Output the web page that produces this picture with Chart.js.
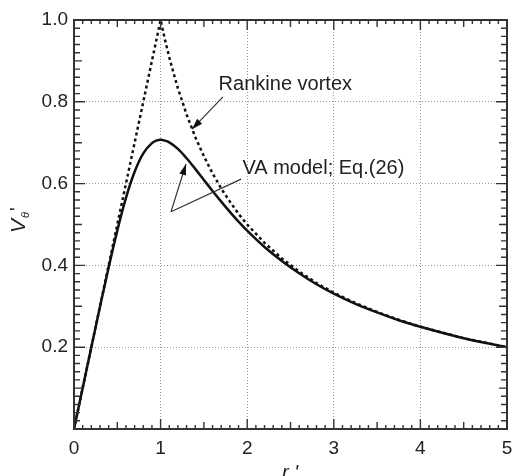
<!DOCTYPE html>
<html>
<head>
<meta charset="utf-8">
<script src="https://cdn.jsdelivr.net/npm/chart.js@4.4.1/dist/chart.umd.min.js"></script>
<style>
  html, body { margin: 0; padding: 0; background: #fff; }
  #wrap { width: 512px; height: 476px; position: relative; }
</style>
</head>
<body>
<div id="wrap"><canvas id="chart"></canvas></div>
<script>
// ── Data ──────────────────────────────────────────────
const rankineR = [0, 1, 1.05, 1.1, 1.15, 1.2, 1.3, 1.4, 1.5, 1.6, 1.7, 1.8, 1.9, 2.0, 2.2, 2.4, 2.6, 2.8, 3.0, 3.25, 3.5, 3.75, 4.0, 4.5, 5.0];
const rankineV = [0, 1, 0.952, 0.909, 0.870, 0.833, 0.769, 0.714, 0.667, 0.625, 0.588, 0.556, 0.526, 0.500, 0.455, 0.417, 0.385, 0.357, 0.333, 0.308, 0.286, 0.267, 0.250, 0.222, 0.200];

const vaR = [0, 0.1, 0.2, 0.3, 0.4, 0.5, 0.6, 0.7, 0.8, 0.9, 0.95, 1.0, 1.05, 1.1, 1.2, 1.3, 1.4, 1.5, 1.6, 1.7, 1.8, 1.9, 2.0, 2.2, 2.4, 2.6, 2.8, 3.0, 3.25, 3.5, 3.75, 4.0, 4.5, 5.0];
const vaV = [0, 0.100, 0.200, 0.299, 0.395, 0.485, 0.565, 0.629, 0.674, 0.699, 0.705, 0.707, 0.705, 0.701, 0.685, 0.662, 0.636, 0.609, 0.582, 0.556, 0.531, 0.507, 0.485, 0.445, 0.411, 0.381, 0.354, 0.331, 0.306, 0.285, 0.266, 0.250, 0.222, 0.200];

const xTicks = [0, 1, 2, 3, 4, 5];
const yTicks = [0.2, 0.4, 0.6, 0.8, 1.0];

const INK = '#222';
const FONT = '"Liberation Sans", Arial, sans-serif';

const toPts = (xs, ys) => xs.map((x, i) => ({ x, y: ys[i] }));

// ── Frame, inward ticks, titles, annotations ──────────
const decor = {
  id: 'decor',
  afterDraw(chart) {
    const { ctx, chartArea: a, scales: { x, y } } = chart;
    ctx.save();
    ctx.strokeStyle = '#333';
    ctx.lineWidth = 1.4;

    // x ticks (bottom + top), 0.1 step
    for (let i = 0; i <= 50; i++) {
      const px = x.getPixelForValue(i / 10);
      const len = i % 10 === 0 ? 10 : i % 5 === 0 ? 7 : 4;
      ctx.beginPath();
      ctx.moveTo(px, a.bottom); ctx.lineTo(px, a.bottom - len);
      ctx.moveTo(px, a.top);    ctx.lineTo(px, a.top + len);
      ctx.stroke();
    }
    // y ticks (left + right), 0.02 step
    for (let i = 0; i <= 50; i++) {
      const py = y.getPixelForValue(i / 50);
      const len = i % 10 === 0 ? 11 : i % 5 === 0 ? 8 : 6;
      ctx.beginPath();
      ctx.moveTo(a.left, py);  ctx.lineTo(a.left + len, py);
      ctx.moveTo(a.right, py); ctx.lineTo(a.right - len, py);
      ctx.stroke();
    }

    // frame
    ctx.lineWidth = 2;
    ctx.strokeRect(a.left, a.top, a.right - a.left, a.bottom - a.top);

    // axis titles
    ctx.fillStyle = INK;
    ctx.textBaseline = 'alphabetic';
    ctx.textAlign = 'left';
    ctx.font = `italic 20px ${FONT}`;
    ctx.fillText("r '", 282, 479);

    ctx.save();
    ctx.translate(25, 233);
    ctx.rotate(-Math.PI / 2);
    ctx.font = `italic 21px ${FONT}`;
    ctx.fillText('V', 0, 0);
    const vw = ctx.measureText('V').width;
    ctx.font = `italic 11px ${FONT}`;
    ctx.fillText('θ', vw + 1, 4);
    ctx.font = `20px ${FONT}`;
    ctx.fillText("'", vw + 8, -1);
    ctx.restore();

    // annotations (data coords)
    const P = (dx, dy) => [x.getPixelForValue(dx), y.getPixelForValue(dy)];
    ctx.font = `20px ${FONT}`;
    ctx.textBaseline = 'middle';
    let [tx, ty] = P(1.67, 0.843);
    ctx.fillText('Rankine vortex', tx, ty);
    [tx, ty] = P(1.945, 0.636);
    ctx.fillText('VA model; Eq.(26)', tx, ty);

    const arrow = (from, to, head) => {
      ctx.strokeStyle = '#333';
      ctx.lineWidth = 1.2;
      ctx.beginPath();
      ctx.moveTo(from[0], from[1]); ctx.lineTo(to[0], to[1]);
      ctx.stroke();
      if (!head) return;
      const ang = Math.atan2(to[1] - from[1], to[0] - from[0]);
      const L = 11, W = 3.5;
      ctx.fillStyle = '#111';
      ctx.beginPath();
      ctx.moveTo(to[0], to[1]);
      ctx.lineTo(to[0] - L * Math.cos(ang) + W * Math.sin(ang), to[1] - L * Math.sin(ang) - W * Math.cos(ang));
      ctx.lineTo(to[0] - L * Math.cos(ang) - W * Math.sin(ang), to[1] - L * Math.sin(ang) + W * Math.cos(ang));
      ctx.closePath();
      ctx.fill();
    };
    arrow(P(1.72, 0.812), P(1.363, 0.733), true);
    const vtx = P(1.12, 0.531);
    arrow(vtx, P(1.293, 0.648), true);
    arrow(vtx, P(1.93, 0.611), false);

    ctx.restore();
  }
};

new Chart(document.getElementById('chart'), {
  type: 'scatter',
  data: {
    datasets: [
      {
        label: 'VA model; Eq.(26)',
        data: toPts(vaR, vaV),
        showLine: true,
        borderColor: '#111',
        borderWidth: 2.5,
        pointRadius: 0,
        cubicInterpolationMode: 'monotone',
        order: 0,
      },
      {
        label: 'Rankine vortex',
        data: toPts(rankineR, rankineV),
        showLine: true,
        borderColor: '#111',
        borderWidth: 2.5,
        borderDash: [3, 3],
        pointRadius: 0,
        tension: 0,
        order: 1,
      },
    ],
  },
  options: {
    responsive: true,
    maintainAspectRatio: false,
    animation: false,
    layout: { padding: { top: 20, right: 5, left: 0, bottom: 0 } },
    plugins: { legend: { display: false }, tooltip: { enabled: false } },
    scales: {
      x: {
        type: 'linear', min: 0, max: 5,
        afterBuildTicks: s => { s.ticks = xTicks.map(v => ({ value: v })); },
        afterFit: s => { s.height = 47; s.paddingLeft = 0; s.paddingRight = 0; },
        grid: { color: '#999', lineWidth: 1, drawTicks: false },
        border: { display: false, dash: [1, 2] },
        ticks: { color: INK, font: { family: FONT, size: 19 }, padding: 8, maxRotation: 0, callback: v => String(v) },
      },
      y: {
        type: 'linear', min: 0, max: 1,
        afterBuildTicks: s => { s.ticks = yTicks.map(v => ({ value: v })); },
        afterFit: s => { s.width = 74; s.paddingTop = 0; s.paddingBottom = 0; },
        grid: { color: '#999', lineWidth: 1, drawTicks: false },
        border: { display: false, dash: [1, 2] },
        ticks: { color: INK, font: { family: FONT, size: 19 }, padding: 6, callback: v => v.toFixed(1) },
      },
    },
  },
  plugins: [decor],
});
</script>
</body>
</html>
